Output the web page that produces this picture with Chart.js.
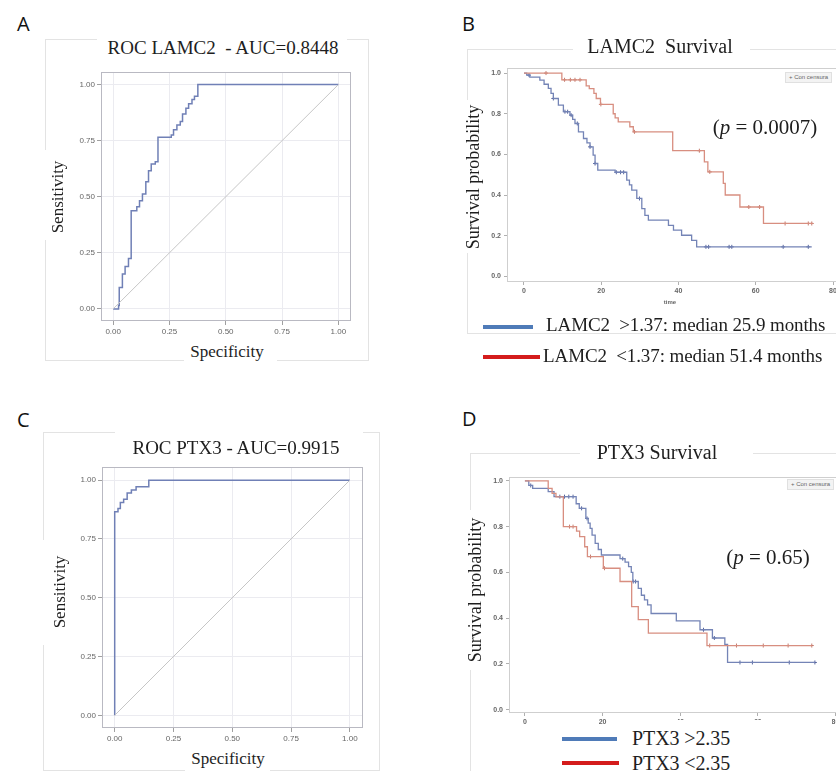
<!DOCTYPE html>
<html>
<head>
<meta charset="utf-8">
<script src="https://cdn.jsdelivr.net/npm/chart.js@4.4.1/dist/chart.umd.min.js"></script>
<style>
  body { margin: 0; background: #fff; }
  #page { position: relative; width: 836px; height: 771px; overflow: hidden; background: #fff;
          font-family: "Liberation Serif", serif; color: #1e1e1e; }
  canvas { position: absolute; }
  .frame { position: absolute; border: 1px solid #e3e3e3; }
  .gap { position: absolute; background: #fff; }
  .letter { position: absolute; font-family: "Open Sans", sans-serif; font-size: 20px; line-height: 1; color: #111; }
  .c { position: absolute; transform: translate(-50%, -50%); white-space: nowrap; line-height: 1.15; }
  .rot { position: absolute; transform: translate(-50%, -50%) rotate(-90deg); white-space: nowrap; line-height: 1.15; }
  .l { position: absolute; transform: translateY(-50%); white-space: nowrap; line-height: 1.15; }
  .ttl { font-size: 19px; }
  .ax { font-size: 17px; }
  .km { font-size: 18px; }
  .pv { font-size: 21px; }
  .leg { font-size: 19px; letter-spacing: -0.1px; }
  .swatch { position: absolute; height: 4px; }
  .cens { position: absolute; height: 9px; background: #f3f3f3; border: 1px solid #e0e0e0;
          font-family: "Liberation Sans", sans-serif; font-size: 6px; line-height: 9px; color: #666; padding: 0 3px; }
  .tiny { font-family: "Liberation Sans", sans-serif; font-size: 6px; font-weight: bold; color: #666; }
</style>
</head>
<body>
<div id="page">
  <!-- frames -->
  <div class="frame" style="left:45px; top:39px; width:322px; height:320px;"></div>
  <div class="gap" style="left:97px; top:36px; width:250px; height:8px;"></div>
  <div class="gap" style="left:42px; top:150px; width:8px; height:90px;"></div>
  <div class="gap" style="left:184px; top:355px; width:93px; height:8px;"></div>

  <div class="frame" style="left:43px; top:432px; width:335px; height:337px;"></div>
  <div class="gap" style="left:115px; top:429px; width:248px; height:8px;"></div>
  <div class="gap" style="left:40px; top:540px; width:8px; height:105px;"></div>
  <div class="gap" style="left:185px; top:765px; width:85px; height:8px;"></div>

  <div class="frame" style="left:467px; top:49px; width:400px; height:283px;"></div>
  <div class="gap" style="left:573px; top:46px; width:177px; height:8px;"></div>
  <div class="gap" style="left:464px; top:100px; width:8px; height:153px;"></div>

  <div class="frame" style="left:470px; top:453px; width:400px; height:400px;"></div>
  <div class="gap" style="left:580px; top:450px; width:173px; height:8px;"></div>
  <div class="gap" style="left:467px; top:510px; width:8px; height:160px;"></div>

  <canvas id="rocA" width="315" height="280" style="left:45px; top:60px;"></canvas>
  <canvas id="rocC" width="330" height="290" style="left:43px; top:455px;"></canvas>
  <canvas id="kmB" width="400" height="245" style="left:467px; top:55px;"></canvas>
  <canvas id="kmD" width="400" height="272" style="left:470px; top:462px;"></canvas>

  <!-- panel letters -->
  <div class="letter" style="left:17px; top:14px;">A</div>
  <div class="letter" style="left:462px; top:14px;">B</div>
  <div class="letter" style="left:17px; top:410px;">C</div>
  <div class="letter" style="left:462px; top:409px;">D</div>

  <!-- titles -->
  <div class="c ttl" style="left:223px; top:48px;">ROC LAMC2&nbsp; - AUC=0.8448</div>
  <div class="c ttl" style="left:236px; top:448px;">ROC PTX3 - AUC=0.9915</div>
  <div class="c ttl" style="left:660px; top:46px; font-size:20px;">LAMC2&nbsp; Survival</div>
  <div class="c ttl" style="left:657px; top:452px; font-size:20px;">PTX3 Survival</div>

  <!-- axis titles -->
  <div class="rot ax" style="left:58px; top:197px;">Sensitivity</div>
  <div class="c ax" style="left:227px; top:352px;">Specificity</div>
  <div class="rot ax" style="left:60px; top:592px;">Sensitivity</div>
  <div class="c ax" style="left:228px; top:759px;">Specificity</div>
  <div class="rot km" style="left:473px; top:177px;">Survival probability</div>
  <div class="rot km" style="left:475px; top:590px;">Survival probability</div>
  <div class="c tiny" style="left:670px; top:302px;">time</div>

  <!-- p values -->
  <div class="c pv" style="left:765px; top:127px;">(<i>p</i> = 0.0007)</div>
  <div class="c pv" style="left:768px; top:557px;">(<i>p</i> = 0.65)</div>

  <!-- censor legends -->
  <div class="cens" style="left:785px; top:72px;">+ Con censura</div>
  <div class="cens" style="left:787px; top:479px;">+ Con censura</div>

  <!-- survival legends -->
  <div class="swatch" style="left:483px; top:325px; width:50px; background:#4f7bb8;"></div>
  <div class="l leg" style="left:546px; top:325px;">LAMC2&nbsp; &gt;1.37: median 25.9 months</div>
  <div class="swatch" style="left:483px; top:355px; width:57px; background:#d41c1c;"></div>
  <div class="l leg" style="left:543px; top:356px;">LAMC2&nbsp; &lt;1.37: median 51.4 months</div>

  <div class="gap" style="left:622px; top:720px; width:210px; height:51px;"></div>
  <div class="swatch" style="left:562px; top:737px; width:55px; background:#4f7bb8;"></div>
  <div class="l leg" style="left:632px; top:738px; font-size:20px;">PTX3 &gt;2.35</div>
  <div class="swatch" style="left:562px; top:761px; width:57px; background:#d41c1c;"></div>
  <div class="l leg" style="left:632px; top:763px; font-size:20px;">PTX3 &lt;2.35</div>
</div>

<script>
// tick values
const rocTicks = [0, 0.25, 0.5, 0.75, 1];
const kmYTicks = [0, 0.2, 0.4, 0.6, 0.8, 1.0];
const kmXTicks = [0, 20, 40, 60, 80];

// ROC reference diagonal
const refX = [0, 1];
const refY = [0, 1];

// ROC LAMC2 (x = 1 - specificity, y = sensitivity), step corners
const rocLamc2X = [0, 0.024, 0.027, 0.041, 0.053, 0.068, 0.080, 0.105, 0.117, 0.130, 0.145, 0.157, 0.169,
  0.187, 0.199, 0.258, 0.268, 0.283, 0.298, 0.308, 0.323, 0.335, 0.350, 0.361, 0.376, 1.0];
const rocLamc2Y = [0, 0.015, 0.095, 0.155, 0.189, 0.225, 0.438, 0.455, 0.482, 0.512, 0.567, 0.616, 0.646,
  0.656, 0.765, 0.775, 0.799, 0.820, 0.835, 0.869, 0.894, 0.914, 0.933, 0.948, 1.0, 1.0];

// ROC PTX3
const rocPtx3X = [0, 0, 0.014, 0.024, 0.038, 0.053, 0.071, 0.091, 0.145, 1.0];
const rocPtx3Y = [0, 0.866, 0.880, 0.905, 0.919, 0.945, 0.958, 0.972, 1.0, 1.0];

// LAMC2 > 1.37 survival (months, probability)
const lamc2HiT = [0, 0.7, 1.5, 4.1, 5.2, 6.3, 7.0, 7.6, 8.9, 10.2, 11.9, 12.6, 13.2, 14.1, 15.4, 16.3, 17.1,
  17.9, 18.4, 19.1, 23.6, 26.6, 27.3, 27.9, 29.2, 30.5, 31.3, 32.2, 37.4, 38.7, 40.8, 43.4, 44.7, 74.5];
const lamc2HiS = [1.0, 0.99, 0.98, 0.965, 0.945, 0.925, 0.90, 0.875, 0.842, 0.81, 0.793, 0.772, 0.752, 0.711,
  0.678, 0.657, 0.637, 0.596, 0.555, 0.522, 0.512, 0.473, 0.45, 0.424, 0.383, 0.333, 0.30, 0.276, 0.251,
  0.227, 0.202, 0.177, 0.145, 0.145];
const lamc2HiCensT = [1.3, 7.6, 10.6, 11.3, 12.2, 13.8, 17.1, 18.4, 23.9, 25.0, 25.8, 29.9, 47.1, 47.8, 53.1,
  53.8, 67.1, 73.6];
const lamc2HiCensS = [0.99, 0.875, 0.81, 0.81, 0.793, 0.752, 0.637, 0.555, 0.512, 0.512, 0.512, 0.383, 0.145,
  0.145, 0.145, 0.145, 0.145, 0.145];

// LAMC2 < 1.37 survival
const lamc2LoT = [0, 9.8, 16.1, 16.9, 18.1, 18.7, 19.8, 23.1, 23.6, 24.4, 27.4, 28.3, 38.5, 46.7, 47.6, 51.6,
  52.1, 55.9, 62.0, 74.8];
const lamc2LoS = [1.0, 0.967, 0.937, 0.924, 0.90, 0.875, 0.846, 0.80, 0.78, 0.76, 0.736, 0.711, 0.618, 0.563,
  0.514, 0.457, 0.40, 0.341, 0.26, 0.26];
const lamc2LoCensT = [5.7, 10.5, 12.0, 13.2, 14.5, 19.9, 28.6, 45.4, 48.1, 58.2, 61.0, 67.6, 73.6, 74.5];
const lamc2LoCensS = [1.0, 0.967, 0.967, 0.967, 0.967, 0.846, 0.711, 0.618, 0.514, 0.341, 0.341, 0.26, 0.26, 0.26];

// PTX3 > 2.35 survival
const ptx3HiT = [0, 1.0, 2.0, 6.0, 7.5, 13.2, 14.0, 15.7, 16.3, 16.8, 17.3, 18.1, 18.9, 19.7, 24.5, 25.8, 26.7,
  27.4, 27.8, 29.2, 30.0, 30.8, 31.6, 32.5, 39.0, 45.1, 48.3, 51.5, 52.2, 74.7];
const ptx3HiS = [1.0, 0.98, 0.967, 0.953, 0.931, 0.90, 0.88, 0.836, 0.815, 0.792, 0.763, 0.727, 0.70, 0.676,
  0.66, 0.645, 0.625, 0.60, 0.56, 0.53, 0.50, 0.48, 0.458, 0.42, 0.388, 0.349, 0.313, 0.285, 0.206, 0.206];
const ptx3HiCensT = [1.5, 9.0, 10.2, 11.3, 12.4, 14.6, 16.0, 25.2, 27.9, 28.5, 46.0, 48.8, 55.4, 58.6, 68.1, 74.7];
const ptx3HiCensS = [0.98, 0.931, 0.931, 0.931, 0.931, 0.88, 0.836, 0.66, 0.56, 0.56, 0.349, 0.313, 0.206, 0.206,
  0.206, 0.206];

// PTX3 < 2.35 survival
const ptx3LoT = [0, 6.0, 7.0, 8.0, 9.9, 13.3, 14.1, 15.4, 16.1, 20.2, 24.5, 27.5, 29.2, 31.8, 46.9, 73.9];
const ptx3LoS = [1.0, 0.967, 0.945, 0.93, 0.80, 0.78, 0.756, 0.712, 0.669, 0.618, 0.56, 0.45, 0.393, 0.334,
  0.28, 0.28];
const ptx3LoCensT = [11.5, 12.4, 16.9, 20.5, 47.6, 54.5, 61.4, 67.8, 73.9];
const ptx3LoCensS = [0.80, 0.80, 0.669, 0.618, 0.28, 0.28, 0.28, 0.28, 0.28];

const pts = (xs, ys) => xs.map((x, i) => ({ x: x, y: ys[i] }));

// frame around the plotting area
const plotBox = {
  id: 'plotBox',
  afterDraw(chart, args, opts) {
    const a = chart.chartArea;
    const ctx = chart.ctx;
    ctx.save();
    ctx.strokeStyle = opts.color;
    ctx.lineWidth = 1;
    ctx.strokeRect(Math.round(a.left) + 0.5, Math.round(a.top) + 0.5, Math.round(a.width) - 1, Math.round(a.height) - 1);
    ctx.restore();
  }
};

function rocChart(id, xs, ys, lay) {
  return new Chart(document.getElementById(id), {
    type: 'scatter',
    data: {
      datasets: [
        { data: pts(refX, refY), showLine: true, borderColor: '#c6c6c6', borderWidth: 1, pointRadius: 0 },
        { data: pts(xs, ys), showLine: true, stepped: true, borderColor: '#7080b6', borderWidth: 1.5, pointRadius: 0 }
      ]
    },
    options: {
      responsive: false,
      animation: false,
      devicePixelRatio: 1,
      layout: { padding: { top: lay.top, right: lay.right, left: 0, bottom: 0 } },
      plugins: { legend: { display: false }, tooltip: { enabled: false }, plotBox: { color: '#b9b9c2' } },
      scales: {
        x: {
          type: 'linear', min: -0.054, max: 1.056,
          afterBuildTicks: s => { s.ticks = rocTicks.map(v => ({ value: v })); },
          afterFit: s => { s.height = lay.xh; },
          grid: { color: '#ebebf0', tickColor: '#a0a0a0', tickLength: 4 },
          border: { display: false },
          ticks: { padding: 2, autoSkip: false, maxRotation: 0, color: '#666',
                   font: { family: 'Liberation Sans', size: 8 }, callback: v => v.toFixed(2) }
        },
        y: {
          type: 'linear', min: -0.054, max: 1.056,
          afterBuildTicks: s => { s.ticks = rocTicks.map(v => ({ value: v })); },
          afterFit: s => { s.width = lay.yw; },
          grid: { color: '#ebebf0', tickColor: '#a0a0a0', tickLength: 4 },
          border: { display: false },
          ticks: { padding: 2, autoSkip: false, color: '#666',
                   font: { family: 'Liberation Sans', size: 8 }, callback: v => v.toFixed(2) }
        }
      }
    },
    plugins: [plotBox]
  });
}

function kmChart(id, hiT, hiS, hiCT, hiCS, loT, loS, loCT, loCS, lay) {
  return new Chart(document.getElementById(id), {
    type: 'scatter',
    data: {
      datasets: [
        { data: pts(loT, loS), showLine: true, stepped: true, borderColor: '#d88e80', borderWidth: 1.3, pointRadius: 0 },
        { data: pts(hiT, hiS), showLine: true, stepped: true, borderColor: '#7484b6', borderWidth: 1.3, pointRadius: 0 },
        { data: pts(loCT, loCS), showLine: false, pointStyle: 'cross', pointRadius: 2, borderWidth: 1, borderColor: '#c47a6c' },
        { data: pts(hiCT, hiCS), showLine: false, pointStyle: 'cross', pointRadius: 2, borderWidth: 1, borderColor: '#56659e' }
      ]
    },
    options: {
      responsive: false,
      animation: false,
      devicePixelRatio: 1,
      layout: { padding: { top: lay.top, right: lay.right, left: 0, bottom: 0 } },
      plugins: { legend: { display: false }, tooltip: { enabled: false }, plotBox: { color: '#cfcfcf' } },
      scales: {
        x: {
          type: 'linear', min: lay.xmin, max: lay.xmax,
          afterBuildTicks: s => { s.ticks = kmXTicks.map(v => ({ value: v })); },
          afterFit: s => { s.height = lay.xh; },
          grid: { drawOnChartArea: false, tickColor: '#b0b0b0', tickLength: 3 },
          border: { display: false },
          ticks: { padding: 2, autoSkip: false, maxRotation: 0, color: '#666',
                   font: { family: 'Liberation Sans', size: 7, weight: 'bold' } }
        },
        y: {
          type: 'linear', min: lay.ymin, max: lay.ymax,
          afterBuildTicks: s => { s.ticks = kmYTicks.map(v => ({ value: v })); },
          afterFit: s => { s.width = lay.yw; },
          grid: { drawOnChartArea: false, tickColor: '#b0b0b0', tickLength: 3 },
          border: { display: false },
          ticks: { padding: 3, autoSkip: false, color: '#666',
                   font: { family: 'Liberation Sans', size: 7, weight: 'bold' }, callback: v => v.toFixed(1) }
        }
      }
    },
    plugins: [plotBox]
  });
}

rocChart('rocA', rocLamc2X, rocLamc2Y, { top: 12, right: 9, yw: 56, xh: 19 });
rocChart('rocC', rocPtx3X, rocPtx3Y, { top: 12, right: 10, yw: 59, xh: 17 });

kmChart('kmB', lamc2HiT, lamc2HiS, lamc2HiCensT, lamc2HiCensS, lamc2LoT, lamc2LoS, lamc2LoCensT, lamc2LoCensS,
  { top: 13, right: 17, yw: 40, xh: 18, xmin: -4.4, xmax: 84.4, ymin: -0.028, ymax: 1.025 });
kmChart('kmD', ptx3HiT, ptx3HiS, ptx3HiCensT, ptx3HiCensS, ptx3LoT, ptx3LoS, ptx3LoCensT, ptx3LoCensS,
  { top: 15, right: 19, yw: 39, xh: 21, xmin: -4.1, xmax: 84.0, ymin: -0.015, ymax: 1.017 });
</script>
</body>
</html>
